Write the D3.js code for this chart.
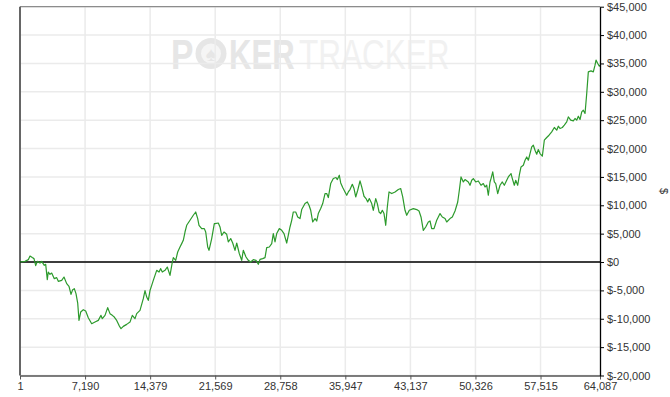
<!DOCTYPE html>
<html>
<head>
<meta charset="utf-8">
<script src="https://cdn.jsdelivr.net/npm/d3@7"></script>
<style>
  body { margin: 0; background: #fff; }
  svg { display: block; font-family: "Liberation Sans", Arial, sans-serif; }
  .rotulo { font-size: 11px; fill: #333; }
</style>
</head>
<body>
<svg id="grafico"></svg>
<script>
"use strict"

// maos jogadas (eixo x)
const maos = [1, 553, 917, 1105, 1359, 1547, 1735, 1912, 2210, 2398, 2685, 2840, 3017, 3127, 3315, 3503, 3790, 4055, 4232, 4608,
  4862, 5160, 5415, 5636, 5823, 6000, 6188, 6376, 6520, 6707, 6995, 7260, 7547, 7923, 8288, 8652, 8950, 9094, 9393, 9691,
  9945, 10200, 10420, 10685, 10940, 11160, 11415, 11790, 12155, 12410, 12708, 12895, 13260, 13625, 13813, 14000, 14177, 14365, 14553, 14730,
  15105, 15360, 15547, 15724, 16023, 16277, 16575, 16830, 16940, 17205, 17426, 17680, 17868, 18045, 18233, 18420, 18785, 19150, 19415, 19636,
  19780, 20078, 20366, 20520, 20741, 20885, 21183, 21470, 21548, 21912, 22100, 22288, 22542, 22840, 23017, 23282, 23503, 23757, 23945, 24233,
  24498, 24675, 24973, 25227, 25492, 25780, 26078, 26332, 26520, 26818, 27073, 27260, 27548, 27813, 27990, 28178, 28365, 28653, 28918, 29172,
  29470, 29835, 30023, 30200, 30465, 30686, 30940, 31128, 31493, 31746, 31935, 32123, 32343, 32598, 32786, 32962, 33227, 33448, 33703, 33890,
  34067, 34332, 34620, 34918, 35062, 35283, 35437, 35658, 35913, 36100, 36277, 36465, 36719, 36907, 37095, 37316, 37570, 37758, 38012, 38233,
  38421, 38598, 38863, 39040, 39305, 39482, 39670, 39858, 40035, 40222, 40410, 40587, 40775, 41073, 41438, 41802, 42067, 42288, 42543, 42730,
  43018, 43460, 43835, 44090, 44310, 44565, 44830, 45117, 45305, 45492, 45747, 46045, 46222, 46410, 46664, 46963, 47150, 47515, 47769, 48068,
  48366, 48543, 48731, 48985, 49173, 49537, 49725, 49913, 50090, 50355, 50642, 50940, 51195, 51383, 51570, 51747, 51935, 52046, 52234, 52410,
  52565, 52786, 53040, 53294, 53515, 53780, 53957, 54256, 54400, 54620, 54775, 54996, 55172, 55360, 55615, 55803, 55990, 56167, 56355, 56543,
  56720, 56908, 57095, 57272, 57460, 57714, 57935, 58200, 58455, 58753, 59040, 59305, 59482, 59670, 59924, 60145, 60410, 60587, 60852, 61140,
  61327, 61515, 61692, 61880, 62068, 62245, 62433, 62620, 62797, 63096, 63350, 63537, 63648, 63836, 64013, 64087];

// lucro acumulado em dolares
const lucro = [0, 120, 420, 1060, 780, 600, -635, 120, -175, 120, -580, -405, -3105, -1765, -2170, -1940, -2930, -2750, -3405, -3230,
  -2645, -3810, -4285, -5700, -4870, -4690, -5575, -7230, -10280, -8820, -8400, -8640, -9810, -10870, -10585, -10285, -9400, -9985, -9400, -8045,
  -9100, -9400, -9700, -10285, -11165, -11750, -11340, -10990, -10585, -9400, -9985, -9100, -8520, -6455, -5025, -6175, -6755, -5025, -4110, -3230,
  -1465, -1765, -1165, -1765, -1465, -880, -2345, 0, 775, 300, 1765, 2645, 3245, 3830, 5290, 6475, 7355, 8240, 8820, 7655,
  6475, 5890, 5890, 5290, 2645, 2065, 4130, 6775, 6775, 6880, 6175, 4710, 5290, 4885, 3530, 4130, 3350, 2065, 3350, 1480,
  300, 2065, 880, 300, 0, 425, 300, -405, 475, 600, 775, 2540, 2645, 3245, 5010, 3530, 5010, 5890, 5590, 5010,
  3350, 6175, 7355, 8820, 8820, 7940, 7655, 9245, 10300, 10585, 10000, 9120, 7055, 7655, 7230, 8540, 9420, 10300, 12065, 12065,
  11360, 13830, 14710, 14890, 14535, 15295, 13935, 13125, 12350, 11765, 12350, 12770, 13705, 12950, 11465, 12650, 14290, 13230, 11590, 11185,
  10585, 11185, 10300, 9120, 11185, 10300, 8820, 8540, 9120, 8540, 6475, 9700, 12350, 12065, 12350, 12770, 12950, 11465, 9120, 8240,
  9120, 9420, 9245, 9000, 7940, 5590, 6175, 7055, 7230, 5890, 5890, 7355, 7940, 8540, 7940, 7655, 7055, 7655, 7940, 9000,
  10585, 12650, 14995, 14110, 14535, 14110, 13530, 14410, 14710, 14110, 14290, 13530, 13830, 13230, 13530, 11765, 14110, 14710, 15875, 14110,
  13830, 12065, 13530, 14110, 13530, 14410, 14995, 15595, 14710, 13530, 14410, 13530, 15295, 16760, 17060, 17940, 18520, 17940, 19120, 20285,
  20585, 19705, 19000, 19830, 19120, 18645, 21470, 21945, 22350, 22930, 23710, 23235, 23940, 23530, 23710, 24115, 24695, 25580, 25000, 24870,
  25295, 25000, 25700, 25120, 26460, 26760, 26180, 29705, 33515, 33690, 33515, 34700, 35580, 35000, 34520, 34700];

const ticksX = [1, 7190, 14379, 21569, 28758, 35947, 43137, 50326, 57515, 64087];
const ticksY = [-20000, -15000, -10000, -5000, 0, 5000, 10000, 15000, 20000, 25000, 30000, 35000, 40000, 45000];

function iniciar(){
  const largura = 670;
  const altura = 397;
  const margem = { esquerda: 20, direita: 70, superior: 6.7, inferior: 21.5 };

  const svg = d3.select('#grafico').attr('width', largura).attr('height', altura);

  const x = d3.scaleLinear()
              .domain([1, 64087])
              .range([margem.esquerda, largura - margem.direita]);
  const y = d3.scaleLinear()
              .domain([-20000, 45000])
              .range([altura - margem.inferior, margem.superior]);

  const fmtY = d => '$' + d3.format(',')(d).replace('\u2212', '-');

  // marca d'agua (fonte estreitada com scale)
  const marca = svg.append('g');
  marca.append('text')
    .attr('transform', 'translate(171, 68.5) scale(0.8, 1)')
    .attr('font-size', 42).attr('font-weight', 'bold')
    .attr('fill', '#e6e6e6')
    .text('P');
  marca.append('circle')
    .attr('cx', 211).attr('cy', 53.5).attr('r', 15.5)
    .attr('fill', '#e6e6e6');
  marca.append('circle')
    .attr('cx', 211).attr('cy', 53.5).attr('r', 10)
    .attr('fill', '#f5f5f5');
  marca.append('text')
    .attr('x', 211).attr('y', 60.5)
    .attr('text-anchor', 'middle')
    .attr('font-size', 20)
    .attr('fill', '#e6e6e6')
    .text('\u2660');
  marca.append('text')
    .attr('transform', 'translate(229, 68.5) scale(0.74, 1)')
    .attr('font-size', 42).attr('font-weight', 'bold')
    .attr('fill', '#e6e6e6')
    .text('KER');
  marca.append('text')
    .attr('transform', 'translate(299, 68.5) scale(0.75, 1)')
    .attr('font-size', 42)
    .attr('fill', '#f1f1f1')
    .text('TRACKER');

  // grade
  svg.append('g')
    .selectAll('line')
    .data(ticksY)
    .enter()
      .append('line')
      .attr('x1', x(1)).attr('x2', x(64087))
      .attr('y1', d => y(d)).attr('y2', d => y(d))
      .attr('stroke', '#ebebeb').attr('stroke-width', 1.5);
  svg.append('g')
    .selectAll('line')
    .data(ticksX.slice(1, -1))
    .enter()
      .append('line')
      .attr('x1', d => x(d)).attr('x2', d => x(d))
      .attr('y1', y(45000)).attr('y2', y(-20000))
      .attr('stroke', '#ebebeb').attr('stroke-width', 1.5);

  // borda superior e esquerda
  svg.append('line')
    .attr('x1', x(1)).attr('x2', x(64087))
    .attr('y1', y(45000)).attr('y2', y(45000))
    .attr('stroke', '#777').attr('stroke-width', 1);
  svg.append('line')
    .attr('x1', x(1)).attr('x2', x(1))
    .attr('y1', y(45000)).attr('y2', y(-20000))
    .attr('stroke', '#666').attr('stroke-width', 2);

  // linha do zero
  svg.append('line')
    .attr('x1', x(1)).attr('x2', x(64087))
    .attr('y1', y(0)).attr('y2', y(0))
    .attr('stroke', '#000').attr('stroke-width', 1.3);

  // curva de lucro
  const linha = d3.line()
                  .x(d => x(d[0]))
                  .y(d => y(d[1]));
  svg.append('path')
    .datum(d3.zip(maos, lucro))
    .attr('d', linha)
    .attr('fill', 'none')
    .attr('stroke', '#2c9a2c')
    .attr('stroke-width', 1.2)
    .attr('stroke-linejoin', 'round');

  // eixo x
  const eixoX = svg.append('g')
    .attr('transform', `translate(0, ${y(-20000)})`)
    .call(d3.axisBottom(x).tickValues(ticksX).tickFormat(d3.format(',')).tickSize(4).tickSizeOuter(0));
  eixoX.select('.domain').attr('stroke', '#555').attr('stroke-width', 1.5);
  eixoX.selectAll('.tick line').attr('stroke', '#555');
  eixoX.selectAll('.tick text').classed('rotulo', true).attr('font-size', null).attr('font-family', null).attr('dy', '0.75em').attr('y', 6);

  // eixo y (direita)
  const eixoY = svg.append('g')
    .attr('transform', `translate(${x(64087)}, 0)`)
    .call(d3.axisRight(y).tickValues(ticksY).tickFormat(fmtY).tickSize(4).tickSizeOuter(0));
  eixoY.select('.domain').attr('stroke', '#000').attr('stroke-width', 1.3);
  eixoY.selectAll('.tick line').attr('stroke', '#000');
  eixoY.selectAll('.tick text').classed('rotulo', true).attr('font-size', null).attr('font-family', null).attr('x', 7);

  svg.append('text')
    .classed('rotulo', true)
    .attr('transform', 'translate(660, 191) rotate(90)')
    .attr('text-anchor', 'middle')
    .text('$');
}

window.addEventListener('load', iniciar, false);
</script>
</body>
</html>
